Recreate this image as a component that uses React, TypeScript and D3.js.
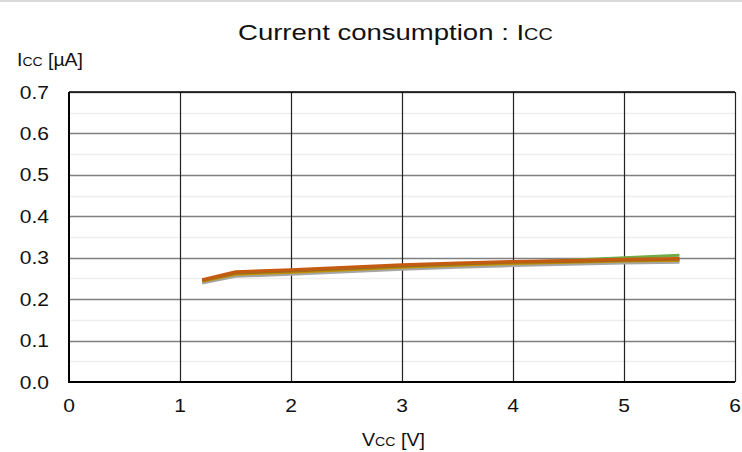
import { useEffect, useRef } from "react";
import * as d3 from "d3";

const vcc = [1.2, 1.5, 2.0, 2.5, 3.0, 3.5, 4.0, 4.5, 5.0, 5.5];

const seriesGrey = [0.239, 0.255, 0.26, 0.266, 0.272, 0.277, 0.281, 0.284, 0.287, 0.289];
const seriesGold = [0.243, 0.26, 0.265, 0.271, 0.277, 0.282, 0.286, 0.289, 0.292, 0.294];
const seriesBrown = [0.245, 0.263, 0.268, 0.274, 0.28, 0.285, 0.289, 0.291, 0.294, 0.296];
const seriesOrange = [0.247, 0.266, 0.271, 0.277, 0.283, 0.287, 0.291, 0.293, 0.296, 0.298];
const seriesGreen = [0.241, 0.258, 0.264, 0.27, 0.276, 0.282, 0.288, 0.294, 0.3, 0.306];

const series = [
  { values: seriesGreen, color: "#70ad47" },
  { values: seriesGrey, color: "#a5a5a5" },
  { values: seriesGold, color: "#bf9000" },
  { values: seriesBrown, color: "#9e6a1e" },
  { values: seriesOrange, color: "#c55a11" },
];

const xTicks = [0, 1, 2, 3, 4, 5, 6];
const yTicks = [0, 0.1, 0.2, 0.3, 0.4, 0.5, 0.6, 0.7];
const yMinor = [0.05, 0.15, 0.25, 0.35, 0.45, 0.55, 0.65];

const font = "'Liberation Sans', Arial, sans-serif";
const stretch = 1.2; // the reference text is drawn a bit wider than Arial

const App = () => {
  const svgRef = useRef<SVGSVGElement | null>(null);

  useEffect(() => {
    const width = 742;
    const height = 452;
    const margin = { top: 92, right: 7, bottom: 70, left: 69 };

    const x = d3.scaleLinear().domain([0, 6]).range([margin.left, width - margin.right]);
    const y = d3.scaleLinear().domain([0, 0.7]).range([height - margin.bottom, margin.top]);

    const svg = d3.select(svgRef.current);
    svg.selectAll("*").remove();

    svg.append("rect").attr("x", 0).attr("y", 0).attr("width", width).attr("height", 2).attr("fill", "#d9d9d9");

    // minor horizontal grid
    svg
      .append("g")
      .selectAll("line")
      .data(yMinor)
      .join("line")
      .attr("x1", x(0))
      .attr("x2", x(6))
      .attr("y1", (d) => Math.round(y(d)) + 0.5)
      .attr("y2", (d) => Math.round(y(d)) + 0.5)
      .attr("stroke", "#eeeeee")
      .attr("stroke-width", 1.5);

    // major horizontal grid
    svg
      .append("g")
      .selectAll("line")
      .data(yTicks.slice(1))
      .join("line")
      .attr("x1", x(0))
      .attr("x2", x(6))
      .attr("y1", (d) => Math.round(y(d)) + 0.5)
      .attr("y2", (d) => Math.round(y(d)) + 0.5)
      .attr("stroke", "#808080")
      .attr("stroke-width", 1.5);

    // vertical grid
    svg
      .append("g")
      .selectAll("line")
      .data(xTicks.slice(1))
      .join("line")
      .attr("x1", (d) => Math.round(x(d)) + 0.5)
      .attr("x2", (d) => Math.round(x(d)) + 0.5)
      .attr("y1", y(0.7))
      .attr("y2", y(0))
      .attr("stroke", "#222")
      .attr("stroke-width", 1.2);

    const line = d3
      .line<number>()
      .x((_, i) => x(vcc[i]))
      .y((d) => y(d));

    svg
      .append("g")
      .selectAll("path")
      .data(series)
      .join("path")
      .attr("fill", "none")
      .attr("stroke", (d) => d.color)
      .attr("stroke-width", 3)
      .attr("d", (d) => line(d.values));

    // frame
    svg
      .append("path")
      .attr("d", `M${x(0)},${y(0.7)}V${y(0)}H${x(6)}`)
      .attr("fill", "none")
      .attr("stroke", "#000")
      .attr("stroke-width", 2);
    svg
      .append("line")
      .attr("x1", x(0))
      .attr("x2", x(6))
      .attr("y1", y(0.7))
      .attr("y2", y(0.7))
      .attr("stroke", "#000")
      .attr("stroke-width", 1.5);

    svg
      .append("g")
      .selectAll("text")
      .data(yTicks)
      .join("text")
      .attr("transform", (d) => `translate(49,${y(d) + 6.5}) scale(${stretch},1)`)
      .attr("text-anchor", "end")
      .attr("font-family", font)
      .attr("font-size", 17.5)
      .attr("fill", "#111")
      .text((d) => d.toFixed(1));

    svg
      .append("g")
      .selectAll("text")
      .data(xTicks)
      .join("text")
      .attr("transform", (d) => `translate(${x(d)},412) scale(${stretch},1)`)
      .attr("text-anchor", "middle")
      .attr("font-family", font)
      .attr("font-size", 17.5)
      .attr("fill", "#111")
      .text((d) => d);

    // titles, stretched to the width they take in the reference
    const fitText = (
      parts: { t: string; small?: boolean }[],
      x0: number,
      x1: number,
      baseline: number,
      size: number
    ) => {
      const el = svg
        .append("text")
        .attr("font-family", font)
        .attr("font-size", size)
        .attr("fill", "#111");
      parts.forEach((p) => {
        const ts = el.append("tspan").text(p.t);
        if (p.small) ts.attr("font-size", size * 0.72);
      });
      const len = (el.node() as SVGTextElement).getComputedTextLength();
      el.attr("transform", `translate(${x0},${baseline}) scale(${(x1 - x0) / len},1)`);
    };

    fitText([{ t: "Current consumption : I" }, { t: "CC", small: true }], 238, 553, 40, 22);
    fitText([{ t: "I" }, { t: "CC", small: true }, { t: " [µA]" }], 17, 83, 66, 19);
    fitText([{ t: "V" }, { t: "CC", small: true }, { t: " [V]" }], 362, 425, 446, 19);
  }, []);

  return (
    <svg
      ref={svgRef}
      width={742}
      height={452}
      style={{ position: "absolute", left: 0, top: 0, background: "#fff" }}
    />
  );
};

export default App;
